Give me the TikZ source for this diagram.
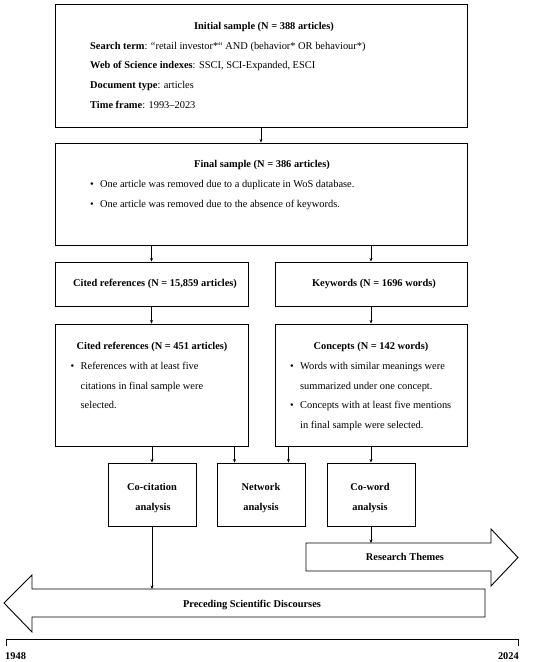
\documentclass[tikz,border=0pt]{standalone}
\usepackage{fontspec}
\setmainfont{Liberation Serif}
\usetikzlibrary{calc,arrows.meta}
\begin{document}
\begin{tikzpicture}[x=1pt,y=-1pt,
  box/.style={draw,line width=0.9pt,inner sep=0pt,rectangle},
  txt/.style={inner sep=0pt,font=\fontsize{10.4}{12}\selectfont},
  arr/.style={line width=0.8pt,-{Stealth[length=3.5pt,width=3pt]}},
  shp/.style={draw,line width=0.9pt,fill=white}]
\useasboundingbox (0,0) rectangle (550,662);
% boxes
\node[box,minimum width=412,minimum height=123] (b1) at (261,65.5) {};
\node[box,minimum width=412,minimum height=102] (b2) at (261,194) {};
\node[box,minimum width=193,minimum height=44] (cr1) at (151.5,284) {};
\node[box,minimum width=192,minimum height=44] (kw) at (371,284) {};
\node[box,minimum width=193,minimum height=122] (cr2) at (151.5,385) {};
\node[box,minimum width=192,minimum height=122] (cc) at (371,385) {};
\node[box,minimum width=88,minimum height=63] (cit) at (152,494.5) {};
\node[box,minimum width=88,minimum height=63] (nw) at (261,494.5) {};
\node[box,minimum width=88,minimum height=63] (cw) at (371,494.5) {};
% box 1 text
\node[txt,anchor=base] (t1) at (264,29.5) {\textbf{Initial sample (N = 388 articles)}};
\node[txt,anchor=base west] (t1a) at (90,49) {\textbf{Search term}: “retail investor*“ AND (behavior* OR behaviour*)};
\node[txt,anchor=base west] (t1b) at (90,68.5) {\textbf{Web of Science indexes}: SSCI, SCI-Expanded, ESCI};
\node[txt,anchor=base west] (t1c) at (90,88) {\textbf{Document type}: articles};
\node[txt,anchor=base west] (t1d) at (90,108) {\textbf{Time frame}: 1993–2023};
% box 2 text
\node[txt,anchor=base] (t2) at (262,167.5) {\textbf{Final sample (N = 386 articles)}};
\node[txt,anchor=base west] (t2ab) at (90,187) {•};
\node[txt,anchor=base west] (t2a) at (100,187) {One article was removed due to a duplicate in WoS database.};
\node[txt,anchor=base west] (t2bb) at (90,207) {•};
\node[txt,anchor=base west] (t2b) at (100,207) {One article was removed due to the absence of keywords.};
% row 3
\node[txt,anchor=base] (t3) at (155,286.5) {\textbf{Cited references (N = 15,859 articles)}};
\node[txt,anchor=base] (t4) at (374,286.5) {\textbf{Keywords (N = 1696 words)}};
% cited refs 2
\node[txt,anchor=base] (t5) at (152,349) {\textbf{Cited references (N = 451 articles)}};
\node[txt,anchor=base west] (t5ab) at (70.5,369) {•};
\node[txt,anchor=base west] (t5a) at (80.5,369) {References with at least five};
\node[txt,anchor=base west] (t5b) at (80.5,389) {citations in final sample were};
\node[txt,anchor=base west] (t5c) at (80.5,408.5) {selected.};
% concepts
\node[txt,anchor=base] (t6) at (371,349) {\textbf{Concepts (N = 142 words)}};
\node[txt,anchor=base west] (t6ab) at (290,369) {•};
\node[txt,anchor=base west] (t6a) at (300,369) {Words with similar meanings were};
\node[txt,anchor=base west] (t6b) at (300,389) {summarized under one concept.};
\node[txt,anchor=base west] (t6cb) at (290,408.5) {•};
\node[txt,anchor=base west] (t6c) at (300,408.5) {Concepts with at least five mentions};
\node[txt,anchor=base west] (t6d) at (300,428) {in final sample were selected.};
% analysis boxes
\node[txt,anchor=base] (t7a) at (152,490) {\textbf{Co-citation}};
\node[txt,anchor=base] (t7b) at (153,510) {\textbf{analysis}};
\node[txt,anchor=base] (t8a) at (261,490) {\textbf{Network}};
\node[txt,anchor=base] (t8b) at (261,510) {\textbf{analysis}};
\node[txt,anchor=base] (t9a) at (370,490) {\textbf{Co-word}};
\node[txt,anchor=base] (t9b) at (370,510) {\textbf{analysis}};
% big arrows
\draw[shp] (306,543) -- (491,543) -- (491,529) -- (518,557.5) -- (491,586) -- (491,571) -- (306,571) -- cycle;
\node[txt,anchor=base] (rt) at (405,560.5) {\textbf{Research Themes}};
\draw[shp] (485,589) -- (32,589) -- (32,575) -- (4,603) -- (32,632) -- (32,617) -- (485,617) -- cycle;
\node[txt,anchor=base] (ps) at (252,607) {\textbf{Preceding Scientific Discourses}};
\coordinate (rtTop) at (371,543);
\coordinate (psTop) at (152,589);
% timeline
\coordinate (tl) at (6,639);
\coordinate (tr) at (518,639);
\draw[line width=0.9pt] ($(tl)+(0,7)$) -- (tl) -- (tr) -- ($(tr)+(0,7)$);
\node[txt,anchor=base west] (y1) at (5,659.5) {\textbf{1948}};
\node[txt,anchor=base east] (y2) at (519,659.5) {\textbf{2024}};
% connectors
\coordinate (nwA) at ($(nw.north west)+(18,0)$);
\coordinate (nwB) at ($(nw.north east)+(-17,0)$);
\draw[arr] (b1.south) -- (b2.north);
\draw[arr] (b2.south -| cr1.north) -- (cr1.north);
\draw[arr] (b2.south -| kw.north) -- (kw.north);
\draw[arr] (cr1.south) -- (cr2.north);
\draw[arr] (kw.south) -- (cc.north);
\draw[arr] (cr2.south -| cit.north) -- (cit.north);
\draw[arr] (cr2.south -| nwA) -- (nwA);
\draw[arr] (cc.south -| nwB) -- (nwB);
\draw[arr] (cc.south -| cw.north) -- (cw.north);
\draw[arr] (cw.south) -- (rtTop);
\draw[arr] (cit.south) -- (psTop);
\end{tikzpicture}
\end{document}
